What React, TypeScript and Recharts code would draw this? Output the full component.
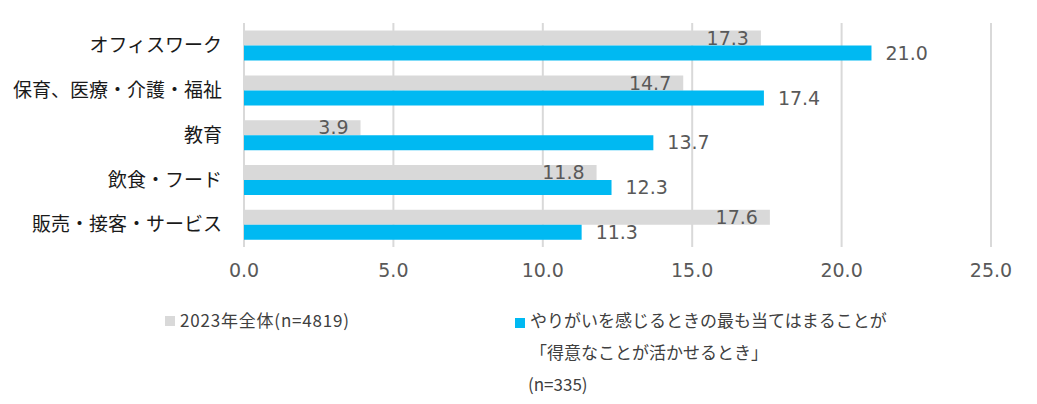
import React from "react";
import { BarChart, Bar, XAxis, YAxis, CartesianGrid, LabelList } from "recharts";

const categories = ["オフィスワーク", "保育、医療・介護・福祉", "教育", "飲食・フード", "販売・接客・サービス"];
const overall2023 = [17.3, 14.7, 3.9, 11.8, 17.6];
const skilled = [21.0, 17.4, 13.7, 12.3, 11.3];
const xTicks = [0, 5, 10, 15, 20, 25];

const legendOverall = "2023年全体(n=4819)";
const legendSkilledLines = ["やりがいを感じるときの最も当てはまることが", "「得意なことが活かせるとき」", "(n=335)"];

const GRAY = "#D9D9D9";
const BLUE = "#00B9F2";

const data = categories.map((c, i) => ({ name: c, overall: overall2023[i], skilled: skilled[i] }));

const fmt = (v: number) => Number(v).toFixed(1);

const numStyle = { fill: "#595959", fontSize: 19, fontFamily: "'DejaVu Sans', sans-serif" };

export default function App() {
  return (
    <div style={{ position: "absolute", left: 0, top: 0, width: 1037, height: 404, background: "#fff" }}>
      <BarChart
        width={1037}
        height={300}
        data={data}
        layout="vertical"
        margin={{ top: 23, right: 46, bottom: 23, left: 0 }}
        barCategoryGap="17%"
        barGap={0}
      >
        <CartesianGrid horizontal={false} stroke={GRAY} strokeWidth={2} />
        <XAxis
          type="number"
          domain={[0, 25]}
          ticks={xTicks}
          tickFormatter={fmt}
          axisLine={false}
          tickLine={false}
          height={30}
          tickSize={6}
          tickMargin={11}
          tick={numStyle}
        />
        <YAxis
          type="category"
          dataKey="name"
          width={244}
          axisLine={false}
          tickLine={false}
          tickSize={6}
          tickMargin={16}
          tick={{ fill: "#1a1a1a", fontSize: 19, fontFamily: "Noto Sans CJK JP" }}
        />
        <Bar dataKey="overall" fill={GRAY} isAnimationActive={false}>
          <LabelList
            dataKey="overall"
            position="insideRight"
            offset={12}
            formatter={(v: any) => fmt(v)}
            style={numStyle}
          />
        </Bar>
        <Bar dataKey="skilled" fill={BLUE} isAnimationActive={false}>
          <LabelList
            dataKey="skilled"
            position="right"
            offset={14}
            formatter={(v: any) => fmt(v)}
            style={numStyle}
          />
        </Bar>
      </BarChart>
      <div
        style={{
          position: "absolute",
          left: 0,
          top: 0,
          width: 1037,
          height: 404,
          pointerEvents: "none",
          fontFamily: "Noto Sans CJK JP",
          fontSize: 17,
          color: "#404040",
        }}
      >
        <div style={{ position: "absolute", left: 165, top: 316, width: 10, height: 10, background: GRAY }} />
        <div style={{ position: "absolute", left: 180, top: 308, lineHeight: "24px", whiteSpace: "nowrap", letterSpacing: 0.8 }}>{legendOverall}</div>
        <div style={{ position: "absolute", left: 515, top: 318, width: 10, height: 10, background: BLUE }} />
        {legendSkilledLines.map((t, i) => (
          <div
            key={i}
            style={{ position: "absolute", left: i === 2 ? 528 : 530, top: 308 + i * 32, lineHeight: "24px", whiteSpace: "nowrap" }}
          >
            {t}
          </div>
        ))}
      </div>
    </div>
  );
}
